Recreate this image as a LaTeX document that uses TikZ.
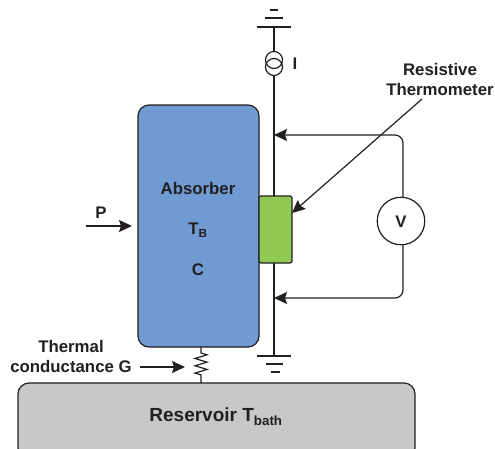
\documentclass[tikz,border=0pt]{standalone}
\usepackage{fontspec}
\setmainfont{Liberation Sans}
\usetikzlibrary{arrows.meta,calc,decorations.pathmorphing}
\definecolor{absorberblue}{HTML}{6F9BD2}
\definecolor{sensorgreen}{HTML}{92C954}
\definecolor{reservoirgray}{HTML}{C7C8CA}
\definecolor{ink}{HTML}{231F20}
\tikzset{
  wire/.style={draw=ink, line width=1.2pt},
  arrowwire/.style={wire, -{Stealth[length=13pt,width=12pt,inset=2pt]}},
  block/.style={draw=ink, line width=1.2pt, inner sep=0pt, outer sep=0pt},
  label/.style={font=\bfseries\fontsize{16.8}{20}\selectfont, text=ink, align=center, inner sep=0pt},
}
\begin{document}
\begin{tikzpicture}[x=1pt,y=-1pt]
\useasboundingbox (0,0) rectangle (495,448);

% --- Blocks ---
\node[block, fill=reservoirgray, rounded corners=11pt, minimum width=397pt, minimum height=76pt] (reservoir) at (216.5,421) {};
\node[label, font=\bfseries\fontsize{19}{21}\selectfont] (reservoirlabel) at (216,417) {Reservoir T\textsubscript{bath}};
\node[block, fill=absorberblue, rounded corners=11pt, minimum width=121pt, minimum height=242pt] (absorber) at (198.5,226) {};
\node[label] (absorbertext) at (198,188) {Absorber};
\node[label] (tempb) at (198,230) {T\textsubscript{B}};
\node[label] (capc) at (198,270) {C};

% Bias line with the current source
\coordinate (topground) at (274,27);
\coordinate (botground) at (274,356);
\node[draw=ink, line width=1.2pt, circle, minimum size=17pt, inner sep=0pt] (sourceup) at (274,60) {};
\node[draw=ink, line width=1.2pt, circle, minimum size=17pt, inner sep=0pt] (sourcedown) at (274,67) {};
\draw[wire] (topground) -- (sourceup);
\draw[wire] (sourcedown) -- (botground);
\node[label] (currenti) at (295,64) {I};

% Ground symbols
\draw[wire] ($(topground)+(-17,0)$) -- ($(topground)+(17,0)$);
\draw[wire] ($(topground)+(-9,-9)$) -- ($(topground)+(9,-9)$);
\draw[wire] ($(topground)+(-4,-17)$) -- ($(topground)+(4,-17)$);
\draw[wire] ($(botground)+(-17,0)$) -- ($(botground)+(17,0)$);
\draw[wire] ($(botground)+(-8,8)$) -- ($(botground)+(9,8)$);
\draw[wire] ($(botground)+(-3,16)$) -- ($(botground)+(6,16)$);

% Thermometer on the line
\node[block, fill=sensorgreen, rounded corners=2pt, minimum width=33pt, minimum height=67pt] (sensor) at (275.5,229.5) {};
\node[label] (sensorlabel) at (440,79) {Resistive\\Thermometer};
\coordinate (sensortip) at (292,213);
\coordinate (sensorfrom) at (422,99);
\draw[arrowwire] (sensorfrom) -- (sensortip);

% Voltmeter
\node[draw=ink, line width=1.2pt, fill=white, circle, minimum size=47.5pt, inner sep=0pt] (voltmeter) at (401,221) {};
\node[label] (voltlabel) at (401,222) {V};
\coordinate (tapup) at (274,135);
\coordinate (tapdown) at (274,298);
\draw[arrowwire, rounded corners=8pt] (403,197) -- (403,135) -- (tapup);
\draw[arrowwire, rounded corners=8pt] (403,245) -- (403,298) -- (tapdown);

% Heat input
\node[label] (powerp) at (101,213) {P};
\coordinate (powerfrom) at (86,226);
\coordinate (powerto) at (132,226);
\draw[arrowwire] (powerfrom) -- (powerto);

% Thermal link
\node[label] (conductance) at (71,356) {Thermal\\conductance G};
\coordinate (linkfrom) at (140,367);
\coordinate (linkto) at (185,367);
\draw[arrowwire] (linkfrom) -- (linkto);
\coordinate (linktop) at (201,347);
\coordinate (linkbot) at (201,383);
\draw[wire, decorate, decoration={zigzag, segment length=7.3pt, amplitude=6pt, pre length=6pt, post length=8pt}] (linktop) -- (linkbot);
\end{tikzpicture}
\end{document}
